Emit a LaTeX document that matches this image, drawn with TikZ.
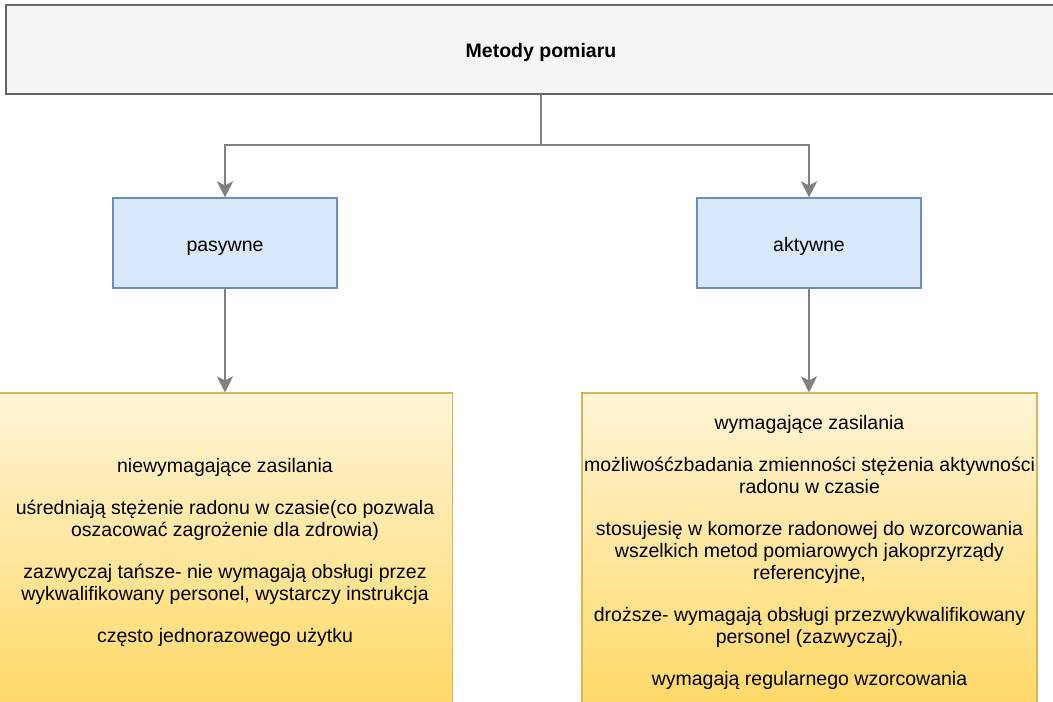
\documentclass[tikz,border=0pt]{standalone}
\usepackage{fontspec}
\setmainfont{Liberation Sans}
\usetikzlibrary{arrows.meta,calc}
\definecolor{topfill}{HTML}{F5F5F5}
\definecolor{topline}{HTML}{666666}
\definecolor{bluefill}{HTML}{DAE8FC}
\definecolor{blueline}{HTML}{6C8EBF}
\definecolor{yeltop}{HTML}{FFF4D6}
\definecolor{yelbot}{HTML}{FFD966}
\definecolor{yelline}{HTML}{D6B656}
\definecolor{arrcol}{HTML}{808080}
\tikzset{
  topbox/.style={draw=topline,fill=topfill,line width=1.2pt,minimum width=1070pt,minimum height=89pt,inner sep=0pt,text height=20pt,text depth=4pt,font=\fontsize{19.5}{22}\selectfont\bfseries},
  bluebox/.style={draw=blueline,fill=bluefill,line width=1.2pt,minimum width=224pt,minimum height=90pt,inner sep=0pt,text height=20pt,text depth=4pt,font=\fontsize{19.5}{22}\selectfont},
  yelbox/.style={draw=yelline,line width=1.2pt,top color=yeltop,bottom color=yelbot,minimum width=455pt,minimum height=318pt,inner sep=0pt,align=center,font=\fontsize{19.5}{22}\selectfont},
  arr/.style={draw=arrcol,line width=2.6pt,-{Stealth[length=16pt,width=16pt,inset=4pt]},color=arrcol},
}
\begin{document}
\begin{tikzpicture}[x=1pt,y=-1pt]
\useasboundingbox (0,0) rectangle (1053,702);
\clip (0,0) rectangle (1053,702);
\fill[white] (0,0) rectangle (1053,702);
\node[topbox] (top) at (541,49.5) {Metody pomiaru};
\node[bluebox] (pas) at (225,243) {pasywne};
\node[bluebox] (akt) at (809,243) {aktywne};
\node[yelbox] (lt) at (225,552) {niewymagające zasilania\\[20pt]
uśredniają stężenie radonu w czasie(co pozwala\\
oszacować zagrożenie dla zdrowia)\\[20pt]
zazwyczaj tańsze- nie wymagają obsługi przez\\
wykwalifikowany personel, wystarczy instrukcja\\[20pt]
często jednorazowego użytku};
\node[yelbox] (rt) at (809.5,552) {wymagające zasilania\\[20pt]
możliwośćzbadania zmienności stężenia aktywności\\
radonu w czasie\\[20pt]
stosujesię w komorze radonowej do wzorcowania\\
wszelkich metod pomiarowych jakoprzyrządy\\
referencyjne,\\[20pt]
droższe- wymagają obsługi przezwykwalifikowany\\
personel (zazwyczaj),\\[20pt]
wymagają regularnego wzorcowania};
\coordinate (j) at (541,145);
\draw[arr] (top.south) -- (j) -| (pas.north);
\draw[arr] (j) -| (akt.north);
\draw[arr] (pas.south) -- (pas.south |- lt.north);
\draw[arr] (akt.south) -- (akt.south |- rt.north);
\end{tikzpicture}
\end{document}
